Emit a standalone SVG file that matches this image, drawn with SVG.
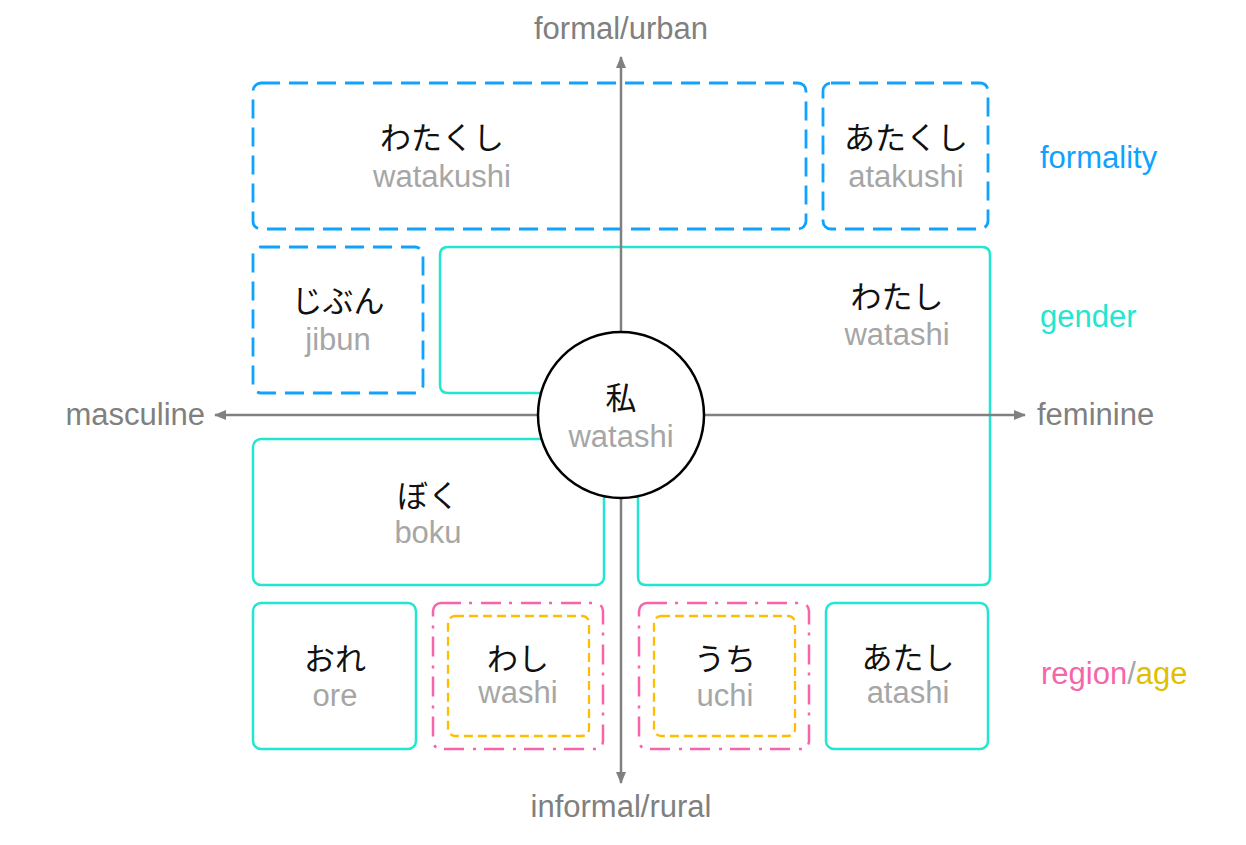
<svg xmlns="http://www.w3.org/2000/svg" width="1246" height="845" viewBox="0 0 1246 845">
<defs>
<marker id="ah" viewBox="0 0 12 10" refX="11" refY="5" markerWidth="12" markerHeight="10" markerUnits="userSpaceOnUse" orient="auto">
<path d="M0,0 L12,5 L0,10 Z" fill="#808080"/>
</marker>
<style>
.jp{font-family:"Noto Sans CJK JP","Noto Sans",sans-serif;font-size:31px;fill:#111;text-anchor:middle}
.ro{font-family:"Liberation Sans",Arial,sans-serif;font-size:31px;fill:#a6a6a6;text-anchor:middle}
.ax{font-family:"Liberation Sans",Arial,sans-serif;font-size:31px;fill:#808080}
.lg{font-family:"Liberation Sans",Arial,sans-serif;font-size:31px}
.formal{fill:none;stroke:#0fa2ff;stroke-width:2.8;stroke-dasharray:19 9}
.gender{fill:none;stroke:#22e6cf;stroke-width:2.5}
.region{fill:none;stroke:#f764a9;stroke-width:2.5;stroke-dasharray:20 8 3 9}
.age{fill:none;stroke:#ffbd00;stroke-width:2.3;stroke-dasharray:9 5}
.axis{stroke:#808080;stroke-width:2.5;fill:none;marker-end:url(#ah)}
</style>
</defs>
<rect width="1246" height="845" fill="#fff"/>

<g id="watakushi">
<rect class="formal" x="253" y="83" width="553" height="146" rx="8"/>
<text class="jp" x="442" y="149">わたくし</text>
<text class="ro" x="442" y="187">watakushi</text>
</g>
<g id="atakushi">
<rect class="formal" x="823" y="83" width="165" height="146" rx="8"/>
<text class="jp" x="906" y="149">あたくし</text>
<text class="ro" x="906" y="187">atakushi</text>
</g>
<g id="jibun">
<rect class="formal" x="253" y="247" width="170" height="146" rx="8"/>
<text class="jp" x="338" y="312">じぶん</text>
<text class="ro" x="338" y="350">jibun</text>
</g>
<g id="watashi-box">
<path class="gender" d="M448,247 H982 Q990,247 990,255 V577 Q990,585 982,585 H646 Q638,585 638,577 V393 H448 Q440,393 440,385 V255 Q440,247 448,247 Z"/>
<text class="jp" x="897" y="308">わたし</text>
<text class="ro" x="897" y="345">watashi</text>
</g>
<g id="boku">
<rect class="gender" x="253" y="439" width="351" height="146" rx="8"/>
<text class="jp" x="428" y="507">ぼく</text>
<text class="ro" x="428" y="543">boku</text>
</g>
<g id="ore">
<rect class="gender" x="253" y="603" width="163" height="146" rx="8"/>
<text class="jp" x="335" y="670">おれ</text>
<text class="ro" x="335" y="706">ore</text>
</g>
<g id="washi">
<rect class="region" x="433" y="603" width="170" height="146" rx="8"/>
<rect class="age" x="448" y="616" width="141" height="120" rx="7"/>
<text class="jp" x="518" y="670">わし</text>
<text class="ro" x="518" y="703">washi</text>
</g>
<g id="uchi">
<rect class="region" x="639" y="603" width="170" height="146" rx="8"/>
<rect class="age" x="654" y="616" width="141" height="120" rx="7"/>
<text class="jp" x="725" y="670">うち</text>
<text class="ro" x="725" y="706">uchi</text>
</g>
<g id="atashi">
<rect class="gender" x="826" y="603" width="162" height="146" rx="8"/>
<text class="jp" x="908" y="669">あたし</text>
<text class="ro" x="908" y="703">atashi</text>
</g>

<g id="connectors">
<line class="axis" x1="621" y1="415" x2="621" y2="57"/>
<line class="axis" x1="621" y1="415" x2="621" y2="783"/>
<line class="axis" x1="621" y1="415" x2="215" y2="415"/>
<line class="axis" x1="621" y1="415" x2="1025" y2="415"/>
</g>

<g id="watashi-center">
<circle cx="621" cy="415" r="83" fill="#fff" stroke="#000" stroke-width="2.5"/>
<text class="jp" x="621" y="409">私</text>
<text class="ro" x="621" y="447">watashi</text>
</g>

<g id="axis-labels">
<text class="ax" x="621" y="39" text-anchor="middle">formal/urban</text>
<text class="ax" x="621" y="817" text-anchor="middle">informal/rural</text>
<text class="ax" x="205" y="425" text-anchor="end">masculine</text>
<text class="ax" x="1037" y="425">feminine</text>
</g>

<g id="legend">
<text class="lg" x="1040" y="168" fill="#0fa2ff">formality</text>
<text class="lg" x="1040" y="327" fill="#22e6cf">gender</text>
<text class="lg" x="1041" y="684"><tspan fill="#f764a9">region</tspan><tspan fill="#a6a6a6">/</tspan><tspan fill="#e0bf00">age</tspan></text>
</g>
</svg>
